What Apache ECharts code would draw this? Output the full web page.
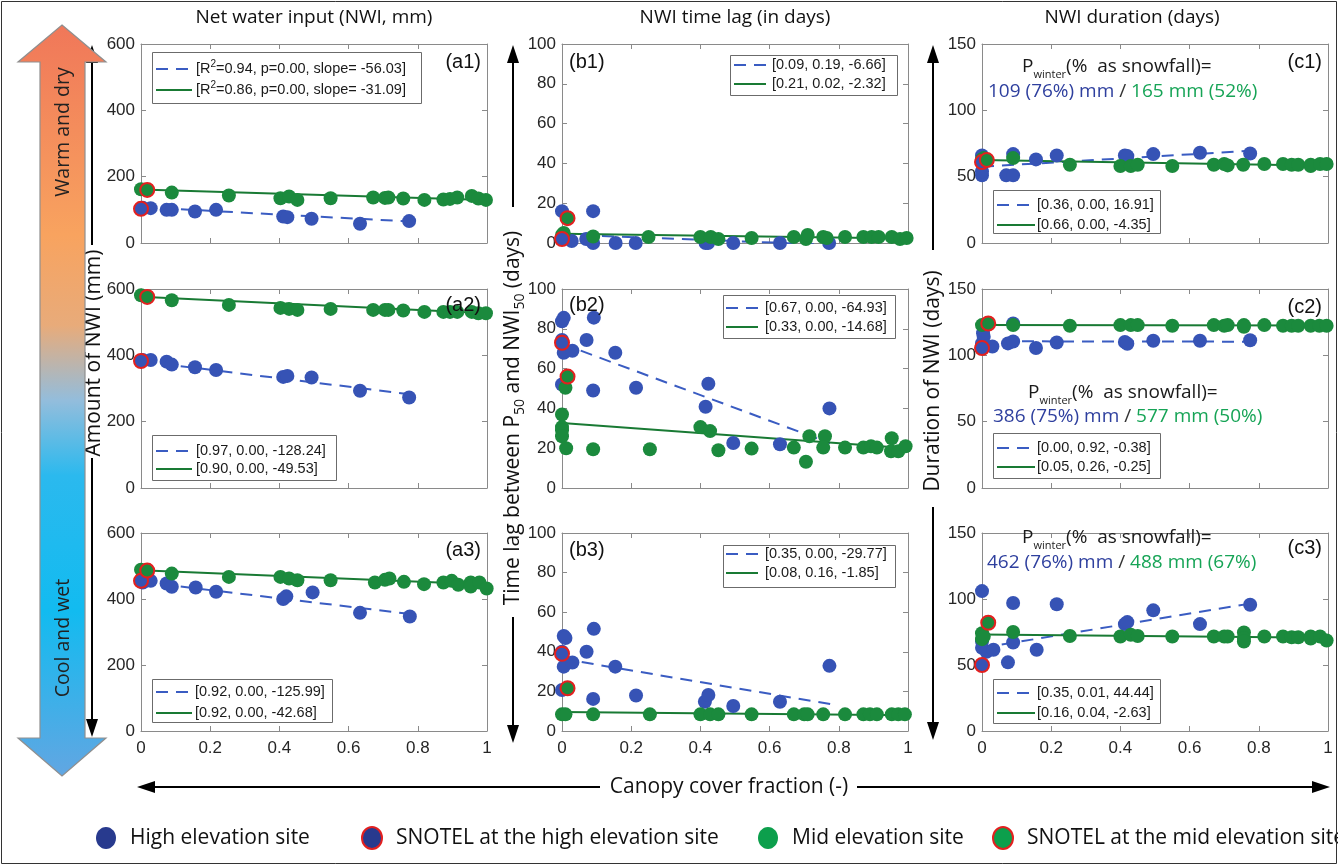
<!DOCTYPE html>
<html><head><meta charset="utf-8">
<script src="https://cdn.jsdelivr.net/npm/echarts@6/dist/echarts.min.js"></script>
<style>html,body{margin:0;padding:0;background:#fff}#c{width:1338px;height:866px}</style>
</head><body><div id="c"></div>
<script>
// ---------------- DATA ----------------
const colTitles = ['Net water input (NWI, mm)', 'NWI time lag (in days)', 'NWI duration (days)'];
const xTicks = [0, 0.2, 0.4, 0.6, 0.8, 1];
const yRangeA = [0, 600, 200];
const yRangeB = [0, 100, 20];
const yRangeC = [0, 150, 50];

// (a1)
const a1High = [[0.005,106],[0.028,105],[0.074,100],[0.089,100],[0.156,95],[0.217,100],[0.411,80],[0.423,78],[0.493,73],[0.633,58],[0.775,66]];
const a1HighSnotel = [[0,103]];
const a1Mid = [[0,162],[0.089,152],[0.254,143],[0.403,135],[0.428,140],[0.452,130],[0.548,135],[0.671,137],[0.705,136],[0.715,137],[0.758,134],[0.819,130],[0.874,131],[0.893,133],[0.914,137],[0.956,142],[0.975,134],[0.997,130]];
const a1MidSnotel = [[0.018,160]];
const a1HighFit = [[0,108],[0.775,65]];
const a1MidFit = [[0,161],[1,130]];
// (a2)
const a2High = [[0.005,386],[0.028,386],[0.074,381],[0.089,372],[0.156,364],[0.217,356],[0.411,335],[0.423,338],[0.493,333],[0.633,293],[0.775,273]];
const a2HighSnotel = [[0,383]];
const a2Mid = [[0,581],[0.089,566],[0.254,552],[0.403,543],[0.428,540],[0.452,537],[0.548,540],[0.671,537],[0.705,537],[0.715,537],[0.758,535],[0.819,531],[0.874,531],[0.893,531],[0.914,531],[0.956,531],[0.975,527],[0.997,527]];
const a2MidSnotel = [[0.018,576]];
const a2HighFit = [[0,382],[0.775,283]];
const a2MidFit = [[0,577],[1,527]];
// (a3)
const a3High = [[0.005,450],[0.028,455],[0.074,447],[0.089,437],[0.158,435],[0.217,422],[0.411,400],[0.42,408],[0.496,420],[0.633,358],[0.777,347]];
const a3HighSnotel = [[0,455]];
const a3Mid = [[0,489],[0.089,477],[0.254,467],[0.403,467],[0.428,462],[0.452,457],[0.548,457],[0.676,450],[0.705,458],[0.718,462],[0.76,452],[0.818,445],[0.874,450],[0.898,455],[0.917,443],[0.953,450],[0.953,438],[0.978,450],[0.999,432]];
const a3MidSnotel = [[0.018,486]];
const a3HighFit = [[0,452],[0.775,355]];
const a3MidFit = [[0,487],[1,444]];
// (b1)
const b1High = [[0,16],[0.028,1],[0.07,2],[0.09,16],[0.09,0],[0.155,0],[0.213,0],[0.415,0],[0.422,0],[0.495,0],[0.63,0],[0.772,0]];
const b1HighSnotel = [[0,2]];
const b1Mid = [[0,4],[0.005,5],[0.09,3.3],[0.25,3],[0.40,3],[0.43,3],[0.452,2],[0.548,2.5],[0.67,3],[0.705,2],[0.71,4],[0.755,3],[0.765,2.5],[0.818,3],[0.871,3],[0.895,3],[0.915,3],[0.953,3],[0.977,2],[0.996,2.5]];
const b1MidSnotel = [[0.016,12.5]];
const b1HighFit = [[0,4.3],[0.775,-0.9]];
const b1MidFit = [[0,4.6],[1,2.3]];
// (b2)
const b2High = [[0,83.8],[0.005,85.5],[0,74.4],[0.005,68],[0.03,69],[0,52],[0.071,74.4],[0.092,85.6],[0.09,49],[0.154,68],[0.214,50.4],[0.415,40.8],[0.423,52.4],[0.495,22.6],[0.63,22],[0.773,40]];
const b2HighSnotel = [[0,73]];
const b2Mid = [[0.01,50.4],[0,36.9],[0,30.6],[0,29],[0,26],[0.012,20],[0.09,19.5],[0.254,19.5],[0.40,30.6],[0.428,28.6],[0.452,19],[0.548,19.8],[0.67,20.3],[0.705,13.2],[0.715,26],[0.76,26],[0.755,20.3],[0.818,20.3],[0.871,20.3],[0.893,21],[0.91,20.3],[0.953,25],[0.951,18.5],[0.972,18.5],[0.993,21]];
const b2MidSnotel = [[0.016,56]];
const b2HighFit = [[0,72.5],[0.775,22.5]];
const b2MidFit = [[0,32.7],[1,20]];
// (b3)
const b3High = [[0.005,48],[0.01,47],[0,40],[0.005,32.5],[0.03,34.6],[0,20.7],[0.071,40],[0.092,51.6],[0.09,16.2],[0.154,32.5],[0.214,17.9],[0.413,14.8],[0.423,18.2],[0.495,12.6],[0.63,14.8],[0.773,32.9]];
const b3HighSnotel = [[0,39]];
const b3Mid = [[0,8.4],[0.01,8.4],[0.09,8.4],[0.254,8.4],[0.40,8.4],[0.428,8.4],[0.452,8.4],[0.548,8.4],[0.67,8.4],[0.70,8.4],[0.71,8.4],[0.755,8.4],[0.818,8.4],[0.871,8.4],[0.89,8.4],[0.91,8.4],[0.953,8.4],[0.972,8.4],[0.991,8.4]];
const b3MidSnotel = [[0.016,21.6]];
const b3HighFit = [[0,36.5],[0.775,13.6]];
const b3MidFit = [[0,9.6],[1,8.0]];
// (c1)
const c1High = [[0,51],[0,54],[0,66],[0.07,51],[0.09,51],[0.09,67],[0.156,63],[0.216,66],[0.413,66],[0.42,65.5],[0.495,67],[0.63,68],[0.775,67.5]];
const c1HighSnotel = [[0,61]];
const c1Mid = [[0,63],[0.005,64],[0.09,64],[0.254,59],[0.40,58],[0.43,58],[0.45,59],[0.55,58],[0.67,59],[0.70,59.5],[0.71,58.5],[0.755,59],[0.816,59.5],[0.87,59.5],[0.895,59],[0.914,59],[0.95,59],[0.95,58],[0.977,59.5],[0.996,59.5]];
const c1MidSnotel = [[0.014,62.5]];
const c1HighFit = [[0,57.5],[0.775,69.5]];
const c1MidFit = [[0,62.5],[1,58.2]];
// (c2)
const c2High = [[0,109],[0.005,114],[0.003,116.6],[0.03,106.7],[0.075,109],[0.09,110.4],[0.09,124],[0.156,105.5],[0.216,109.7],[0.413,110],[0.42,108.7],[0.495,111],[0.63,111],[0.775,111.4]];
const c2HighSnotel = [[0,105.5]];
const c2Mid = [[0,122.8],[0.09,122.8],[0.254,122.3],[0.40,122.8],[0.43,122.8],[0.45,122.8],[0.55,122.3],[0.67,122.8],[0.70,122.3],[0.71,122.8],[0.757,122.8],[0.757,121.6],[0.816,122.8],[0.87,122.3],[0.895,122.3],[0.914,122.3],[0.95,122.3],[0.975,122.3],[0.996,122.3]];
const c2MidSnotel = [[0.018,124]];
const c2HighFit = [[0,110.6],[0.775,110.3]];
const c2MidFit = [[0,122.8],[1,122.5]];
// (c3)
const c3High = [[0,106],[0,63],[0,68],[0.013,60],[0.033,61.5],[0.075,52],[0.09,97],[0.09,67],[0.158,61.5],[0.216,96],[0.413,81],[0.42,82.5],[0.495,91.4],[0.63,81],[0.775,95.7]];
const c3HighSnotel = [[0,50]];
const c3Mid = [[0,74],[0,69.6],[0.005,71.6],[0.09,75],[0.254,72],[0.40,71.6],[0.43,72.9],[0.45,72],[0.55,71.6],[0.67,71.6],[0.70,71.6],[0.71,71.6],[0.757,74.7],[0.757,70.4],[0.757,67.8],[0.816,71.6],[0.87,71.6],[0.895,71],[0.914,71],[0.95,71.6],[0.95,70],[0.977,71.6],[0.996,68.6]];
const c3MidSnotel = [[0.018,82]];
const c3HighFit = [[0,63],[0.775,96.5]];
const c3MidFit = [[0,73.2],[1,70.6]];

// legend entries inside panels [high (dashed), mid (solid)]
const a1Legend = ['[R{sup|2}=0.94, p=0.00, slope= -56.03]', '[R{sup|2}=0.86, p=0.00, slope= -31.09]'];
const a2Legend = ['[0.97, 0.00, -128.24]', '[0.90, 0.00, -49.53]'];
const a3Legend = ['[0.92, 0.00, -125.99]', '[0.92, 0.00, -42.68]'];
const b1Legend = ['[0.09, 0.19, -6.66]', '[0.21, 0.02, -2.32]'];
const b2Legend = ['[0.67, 0.00, -64.93]', '[0.33, 0.00, -14.68]'];
const b3Legend = ['[0.35, 0.00, -29.77]', '[0.08, 0.16, -1.85]'];
const c1Legend = ['[0.36, 0.00, 16.91]', '[0.66, 0.00, -4.35]'];
const c2Legend = ['[0.00, 0.92, -0.38]', '[0.05, 0.26, -0.25]'];
const c3Legend = ['[0.35, 0.01, 44.44]', '[0.16, 0.04, -2.63]'];
// P_winter annotations [high, mid]
const c1Pwinter = ['109 (76%) mm', '165 mm (52%)'];
const c2Pwinter = ['386 (75%) mm', '577 mm (50%)'];
const c3Pwinter = ['462 (76%) mm', '488 mm (67%)'];
const siteLegend = ['High elevation site', 'SNOTEL at the high elevation site', 'Mid elevation site', 'SNOTEL at the mid elevation site'];

// ---------------- LAYOUT / STYLE ----------------
const COLS = [141, 562, 982], PW = 346;
const ROWS = [44, 289, 533], PH = [199, 199, 198];
const BLUE = '#3653b5', GREEN = '#1b8a3d', RED = '#e3201f';
const BLUE_LINE = '#3a5cc2', GREEN_LINE = '#197a34';
const AX = '#8a8a8a';
const SANS = 'Liberation Sans, Arial, sans-serif';
const MY = 'Open Sans, Noto Sans, sans-serif';

const panels = [
  {n:'a1', c:0, r:0, y:yRangeA, high:a1High, hs:a1HighSnotel, mid:a1Mid, ms:a1MidSnotel, hf:a1HighFit, mf:a1MidFit, leg:a1Legend,
   box:[152,52,269,51], rows:[69,90], lx:[156,192], tx:196, lab:[481,62,'right']},
  {n:'a2', c:0, r:1, y:yRangeA, high:a2High, hs:a2HighSnotel, mid:a2Mid, ms:a2MidSnotel, hf:a2HighFit, mf:a2MidFit, leg:a2Legend,
   box:[152,435,184,45], rows:[451,469], lx:[156,192], tx:196, lab:[481,305,'right']},
  {n:'a3', c:0, r:2, y:yRangeA, high:a3High, hs:a3HighSnotel, mid:a3Mid, ms:a3MidSnotel, hf:a3HighFit, mf:a3MidFit, leg:a3Legend,
   box:[152,679,180,43], rows:[692,713], lx:[156,192], tx:195, lab:[481,550,'right']},
  {n:'b1', c:1, r:0, y:yRangeB, high:b1High, hs:b1HighSnotel, mid:b1Mid, ms:b1MidSnotel, hf:b1HighFit, mf:b1MidFit, leg:b1Legend,
   box:[730,55,167,40], rows:[65,84], lx:[734,766], tx:772, lab:[569,62,'left']},
  {n:'b2', c:1, r:1, y:yRangeB, high:b2High, hs:b2HighSnotel, mid:b2Mid, ms:b2MidSnotel, hf:b2HighFit, mf:b2MidFit, leg:b2Legend,
   box:[723,295,172,43], rows:[308,327], lx:[726,758], tx:765, lab:[569,305,'left']},
  {n:'b3', c:1, r:2, y:yRangeB, high:b3High, hs:b3HighSnotel, mid:b3Mid, ms:b3MidSnotel, hf:b3HighFit, mf:b3MidFit, leg:b3Legend,
   box:[723,545,172,42], rows:[554,573], lx:[726,758], tx:765, lab:[569,550,'left']},
  {n:'c1', c:2, r:0, y:yRangeC, high:c1High, hs:c1HighSnotel, mid:c1Mid, ms:c1MidSnotel, hf:c1HighFit, mf:c1MidFit, leg:c1Legend,
   box:[993,190,167,43], rows:[205,225], lx:[997,1035], tx:1037, lab:[1322,62,'right'], pw:c1Pwinter, pwy:[67,92], pwx:[1022,988]},
  {n:'c2', c:2, r:1, y:yRangeC, high:c2High, hs:c2HighSnotel, mid:c2Mid, ms:c2MidSnotel, hf:c2HighFit, mf:c2MidFit, leg:c2Legend,
   box:[993,433,167,45], rows:[448,467], lx:[997,1035], tx:1037, lab:[1322,307,'right'], pw:c2Pwinter, pwy:[393,417], pwx:[1028,993]},
  {n:'c3', c:2, r:2, y:yRangeC, high:c3High, hs:c3HighSnotel, mid:c3Mid, ms:c3MidSnotel, hf:c3HighFit, mf:c3MidFit, leg:c3Legend,
   box:[993,679,167,44], rows:[693,713], lx:[997,1035], tx:1037, lab:[1322,548,'right'], pw:c3Pwinter, pwy:[538,563], pwx:[1022,987]}
];

const grid = [], xAxis = [], yAxis = [], series = [], graphic = [];

panels.forEach((p, i) => {
  grid.push({left: COLS[p.c], top: ROWS[p.r], width: PW, height: PH[p.r], show: false});
  const xBase = {gridIndex: i, type: 'value', min: xTicks[0], max: xTicks[xTicks.length-1], interval: 0.2,
    axisLine: {show: true, onZero: false, lineStyle: {color: AX, width: 1}},
    axisTick: {show: true, inside: true, length: 5, lineStyle: {color: AX}},
    splitLine: {show: false}};
  xAxis.push(Object.assign({}, xBase, {position: 'bottom',
    axisLabel: {show: p.r === 2, fontSize: 17, color: '#262626', fontFamily: SANS, margin: 9}}));
  xAxis.push(Object.assign({}, xBase, {position: 'top', axisLabel: {show: false}}));
  const yBase = {gridIndex: i, type: 'value', min: p.y[0], max: p.y[1], interval: p.y[2],
    axisLine: {show: true, onZero: false, lineStyle: {color: AX, width: 1}},
    axisTick: {show: true, inside: true, length: 5, lineStyle: {color: AX}},
    splitLine: {show: false}};
  yAxis.push(Object.assign({}, yBase, {position: 'left',
    axisLabel: {show: true, fontSize: 17, color: '#262626', fontFamily: SANS, margin: 6}}));
  yAxis.push(Object.assign({}, yBase, {position: 'right', axisLabel: {show: false}}));

  const ax = {xAxisIndex: 2*i, yAxisIndex: 2*i};
  series.push(Object.assign({type: 'line', data: p.hf, showSymbol: false, silent: true, clip: true, z: 2,
    lineStyle: {color: BLUE_LINE, width: 2, type: [12, 8]}}, ax));
  series.push(Object.assign({type: 'line', data: p.mf, showSymbol: false, silent: true, clip: true, z: 2,
    lineStyle: {color: GREEN_LINE, width: 2}}, ax));
  series.push(Object.assign({type: 'scatter', data: p.high, symbolSize: 14, z: 3,
    itemStyle: {color: BLUE, opacity: 1}}, ax));
  series.push(Object.assign({type: 'scatter', data: p.mid, symbolSize: 14, z: 4,
    itemStyle: {color: GREEN, opacity: 1}}, ax));
  series.push(Object.assign({type: 'scatter', data: p.hs, symbolSize: 14, z: 5,
    itemStyle: {color: BLUE, borderColor: RED, borderWidth: 2, opacity: 1}}, ax));
  series.push(Object.assign({type: 'scatter', data: p.ms, symbolSize: 14, z: 5,
    itemStyle: {color: GREEN, borderColor: RED, borderWidth: 2, opacity: 1}}, ax));

  // in-panel legend box
  const [bx, by, bw, bh] = p.box;
  graphic.push({type: 'rect', shape: {x: bx + 0.5, y: by + 0.5, width: bw, height: bh}, z: 50,
    style: {fill: '#fff', stroke: '#6b6b6b', lineWidth: 1}});
  graphic.push({type: 'line', shape: {x1: p.lx[0], y1: p.rows[0], x2: p.lx[1], y2: p.rows[0]}, z: 51,
    style: {stroke: BLUE_LINE, lineWidth: 2, lineDash: [12, 8]}});
  graphic.push({type: 'line', shape: {x1: p.lx[0], y1: p.rows[1], x2: p.lx[1], y2: p.rows[1]}, z: 51,
    style: {stroke: GREEN_LINE, lineWidth: 2}});
  p.leg.forEach((t, k) => {
    graphic.push({type: 'text', x: p.tx, y: p.rows[k], z: 51,
      style: {text: t, fontSize: 14.5, fontFamily: SANS, fill: '#1a1a1a', align: 'left', verticalAlign: 'middle',
        textAlign: 'left', textVerticalAlign: 'middle', lineHeight: 20,
        rich: {sup: {fontSize: 10, fontFamily: SANS, lineHeight: 10, verticalAlign: 'top', fill: '#1a1a1a'}}}});
  });
  // panel label
  graphic.push({type: 'text', x: p.lab[0], y: p.lab[1], z: 51,
    style: {text: '(' + p.n + ')', fontSize: 20, fontFamily: SANS, fill: '#111', align: p.lab[2], verticalAlign: 'middle',
      textAlign: p.lab[2], textVerticalAlign: 'middle'}});
  // P_winter annotation
  if (p.pw) {
    graphic.push({type: 'text', x: p.pwx[0], y: p.pwy[0], z: 51,
      style: {text: 'P{sub|winter}(%  as snowfall)=', fontSize: 19, fontFamily: MY, fill: '#1a1a1a', lineHeight: 26,
        align: 'left', verticalAlign: 'middle', textAlign: 'left', textVerticalAlign: 'middle',
        rich: {sub: {fontSize: 11, fontFamily: MY, lineHeight: 11, verticalAlign: 'bottom', fill: '#1a1a1a'}}}});
    graphic.push({type: 'text', x: p.pwx[1], y: p.pwy[1], z: 51,
      style: {text: '{b|' + p.pw[0] + '} {s|/} {g|' + p.pw[1] + '}', fontSize: 19, fontFamily: MY, lineHeight: 24,
        align: 'left', verticalAlign: 'middle', textAlign: 'left', textVerticalAlign: 'middle',
        rich: {b: {fill: '#2e3f9e', fontSize: 19, fontFamily: MY},
               s: {fill: '#333', fontSize: 19, fontFamily: MY},
               g: {fill: '#16a456', fontSize: 19, fontFamily: MY}}}});
  }
});

// ---- column titles
const titleX = [314, 735, 1132];
colTitles.forEach((t, k) => {
  graphic.push({type: 'text', x: titleX[k], y: 18,
    style: {text: t, fontSize: 19, fontFamily: MY, fill: '#111', align: 'center', verticalAlign: 'middle',
      textAlign: 'center', textVerticalAlign: 'middle'}});
});

// ---- arrows helpers
function vArrow(x, yFrom, yTip) {
  const dir = yTip < yFrom ? -1 : 1, hl = 16, hw = 6;
  return [
    {type: 'line', shape: {x1: x, y1: yFrom, x2: x, y2: yTip - dir * hl}, style: {stroke: '#000', lineWidth: 2}},
    {type: 'polygon', shape: {points: [[x, yTip], [x - hw, yTip - dir * (hl + 2)], [x + hw, yTip - dir * (hl + 2)]]}, style: {fill: '#000'}}
  ];
}
function hArrow(xFrom, xTip, y) {
  const dir = xTip < xFrom ? -1 : 1, hl = 16, hw = 6;
  return [
    {type: 'line', shape: {x1: xFrom, y1: y, x2: xTip - dir * hl, y2: y}, style: {stroke: '#000', lineWidth: 2}},
    {type: 'polygon', shape: {points: [[xTip, y], [xTip - dir * (hl + 2), y - hw], [xTip - dir * (hl + 2), y + hw]]}, style: {fill: '#000'}}
  ];
}
function vText(x, y, t, rich) {
  return {type: 'text', x: x, y: y, rotation: Math.PI / 2,
    style: {text: t, fontSize: 21, fontFamily: MY, fill: '#111', lineHeight: 28,
      align: 'center', verticalAlign: 'middle', textAlign: 'center', textVerticalAlign: 'middle', rich: rich || {}}};
}
const subRich = {sub: {fontSize: 14, fontFamily: MY, lineHeight: 14, verticalAlign: 'bottom', fill: '#111'}};

graphic.push(...vArrow(92, 245, 45), ...vArrow(92, 458, 737));
graphic.push(vText(94, 353, 'Amount of NWI (mm)'));
graphic.push(...vArrow(513, 207, 45), ...vArrow(513, 617, 743));
graphic.push(vText(513, 418, 'Time lag between P{sub|50} and NWI{sub|50} (days)', subRich));
graphic.push(...vArrow(933, 250, 45), ...vArrow(933, 507, 740));
graphic.push(vText(933, 381, 'Duration of NWI (days)'));

// ---- canopy cover arrow
graphic.push(...hArrow(600, 137, 787), ...hArrow(857, 1330, 787));
graphic.push({type: 'text', x: 729, y: 787,
  style: {text: 'Canopy cover fraction (-)', fontSize: 21, fontFamily: MY, fill: '#111', align: 'center', verticalAlign: 'middle',
    textAlign: 'center', textVerticalAlign: 'middle'}});

// ---- big gradient double arrow
graphic.push({type: 'polygon', z: 1,
  shape: {points: [[62,25],[106,62],[85,62],[85,738],[106,738],[62,776],[18,738],[40,738],[40,62],[18,62]]},
  style: {stroke: '#8f8f8f', lineWidth: 1.2,
    fill: {type: 'linear', x: 0, y: 0, x2: 0, y2: 1, colorStops: [
      {offset: 0, color: '#f07759'}, {offset: 0.28, color: '#f8a35f'}, {offset: 0.4, color: '#e8ab7a'},
      {offset: 0.5, color: '#93bddc'}, {offset: 0.6, color: '#2bb9ee'}, {offset: 0.78, color: '#12bbf0'},
      {offset: 1, color: '#62a6e2'}]}}});
graphic.push({type: 'text', x: 63, y: 132, rotation: Math.PI / 2, z: 2,
  style: {text: 'Warm and dry', fontSize: 19.5, fontFamily: MY, fill: '#222', align: 'center', verticalAlign: 'middle',
    textAlign: 'center', textVerticalAlign: 'middle'}});
graphic.push({type: 'text', x: 63, y: 638, rotation: Math.PI / 2, z: 2,
  style: {text: 'Cool and wet', fontSize: 19.5, fontFamily: MY, fill: '#222', align: 'center', verticalAlign: 'middle',
    textAlign: 'center', textVerticalAlign: 'middle'}});

// ---- bottom site legend
const legCx = [106, 372, 768, 1003];
const legFill = ['#283a8e', '#283a8e', '#0c9f4c', '#0c9f4c'];
siteLegend.forEach((t, k) => {
  graphic.push({type: 'ellipse', shape: {cx: legCx[k], cy: 838, rx: 10, ry: 11},
    style: {fill: legFill[k], stroke: (k % 2) ? RED : null, lineWidth: (k % 2) ? 2 : 0}});
  graphic.push({type: 'text', x: legCx[k] + 24, y: 838,
    style: {text: t, fontSize: 21, fontFamily: MY, fill: '#111', align: 'left', verticalAlign: 'middle',
      textAlign: 'left', textVerticalAlign: 'middle'}});
});

// ---- outer frame
graphic.push({type: 'rect', shape: {x: 1.5, y: 1.5, width: 1335, height: 862}, z: 0,
  style: {fill: null, stroke: '#333', lineWidth: 1}});

const chart = echarts.init(document.getElementById('c'), null, {renderer: 'canvas', width: 1338, height: 866});
chart.setOption({
  animation: false,
  backgroundColor: '#fff',
  grid: grid, xAxis: xAxis, yAxis: yAxis, series: series,
  graphic: {elements: graphic}
});
</script></body></html>
